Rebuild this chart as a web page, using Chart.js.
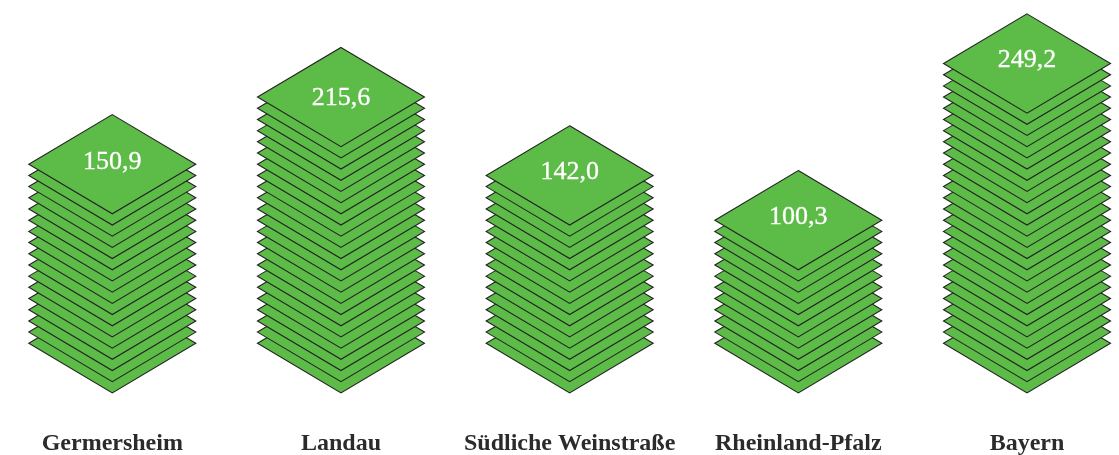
<!DOCTYPE html>
<html>
<head>
<meta charset="utf-8">
<style>
  html, body { margin: 0; padding: 0; background: #fff; }
  canvas { display: block; }
</style>
<script src="https://cdn.jsdelivr.net/npm/chart.js@4/dist/chart.umd.min.js"></script>
</head>
<body>
<canvas id="chart" width="1119" height="455"></canvas>
<script>
const categories = ['Germersheim', 'Landau', 'Südliche Weinstraße', 'Rheinland-Pfalz', 'Bayern'];
const values = [150.9, 215.6, 142.0, 100.3, 249.2];

// one sheet per started 10 units, on top of a base sheet at 0
const sheetStep = 10;
const yMax = 250;

// the value labels do not sit at quite the same height on each top sheet
const labelShift = [5, 8, 4, 3.7, 3.2];

function stackFor(name, value) {
    const pts = [];
    const n = Math.ceil(value / sheetStep);
    for (let k = 0; k <= n; k++) {
        pts.push({ x: name, y: k * sheetStep });
    }
    return pts;
}

// draws a sheet at every point of the stacks, bottom one first
const sheets = {
    id: 'sheets',
    afterDatasetsDraw(chart) {
        const ctx = chart.ctx;
        ctx.save();
        ctx.fillStyle = '#5dbb47';
        ctx.strokeStyle = '#222222';
        ctx.lineWidth = 1.1;
        values.forEach((v, i) => {
            chart.getDatasetMeta(i).data.forEach(p => {
                ctx.beginPath();
                ctx.moveTo(p.x, p.y - 49.6);
                ctx.lineTo(p.x + 83.5, p.y);
                ctx.lineTo(p.x, p.y + 49.6);
                ctx.lineTo(p.x - 83.5, p.y);
                ctx.closePath();
                ctx.fill();
                ctx.stroke();
            });
        });
        ctx.fillStyle = '#ffffff';
        ctx.strokeStyle = '#ffffff';
        ctx.lineWidth = 0.3;
        ctx.font = '26px "Liberation Serif"';
        ctx.textAlign = 'center';
        ctx.textBaseline = 'alphabetic';
        values.forEach((v, i) => {
            const pts = chart.getDatasetMeta(i).data;
            const top = pts[pts.length - 1];
            const text = v.toFixed(1).replace('.', ',');
            ctx.fillText(text, top.x, top.y + labelShift[i]);
            ctx.strokeText(text, top.x, top.y + labelShift[i]);
        });
        ctx.restore();
    }
};

new Chart(document.getElementById('chart').getContext('2d'), {
    type: 'line',
    data: {
        labels: categories,
        datasets: categories.map((name, i) => ({
            label: name,
            data: stackFor(name, values[i]),
            showLine: false,
            pointRadius: 0,
            clip: false
        }))
    },
    options: {
        responsive: false,
        animation: false,
        events: [],
        layout: {
            padding: { left: 112.3, right: 92, top: 63.5, bottom: 0 }
        },
        plugins: {
            legend: { display: false },
            tooltip: { enabled: false }
        },
        scales: {
            x: {
                type: 'category',
                offset: false,
                border: { display: false },
                grid: { display: false, drawTicks: false },
                afterFit(axis) {
                    axis.height = 111.7;
                    axis.paddingLeft = 0;
                    axis.paddingRight = 0;
                },
                ticks: {
                    padding: 86,
                    maxRotation: 0,
                    autoSkip: false,
                    color: '#2b2b2b',
                    font: { family: '"Liberation Serif"', size: 24, weight: 'bold' }
                }
            },
            y: {
                display: false,
                min: 0,
                max: yMax
            }
        }
    },
    plugins: [sheets]
});
</script>
</body>
</html>
